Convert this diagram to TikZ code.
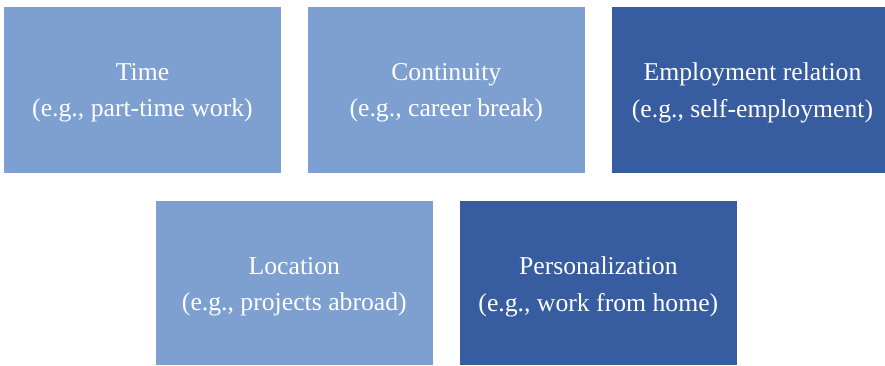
\documentclass[tikz,border=0pt]{standalone}
\usepackage{fontspec}
\setmainfont{Liberation Serif}
\definecolor{lightbox}{HTML}{7EA0D1}
\definecolor{darkbox}{HTML}{375CA0}
\tikzset{
  boxlabel/.style={text=white, align=center, font=\fontsize{25.7bp}{36.5bp}\selectfont, inner sep=0pt},
}
\begin{document}
\begin{tikzpicture}[x=1bp,y=-1bp]
\useasboundingbox (0,0) rectangle (885,365);
\fill[lightbox] (4,7) rectangle (281,172.5);
\node[boxlabel] (t1) at (142.5,93) {Time\\(e.g., part-time work)};
\fill[lightbox] (308,7) rectangle (584.5,172.5);
\node[boxlabel] (t2) at (446.25,93) {Continuity\\(e.g., career break)};
\fill[darkbox] (612,7) rectangle (885,172.5);
\node[boxlabel] (t3) at (752.5,93) {Employment relation\\(e.g., self-employment)};
\fill[lightbox] (156,201) rectangle (432.7,365);
\node[boxlabel] (t4) at (294.35,287) {Location\\(e.g., projects abroad)};
\fill[darkbox] (460,201) rectangle (736.7,365);
\node[boxlabel] (t5) at (598.35,287) {Personalization\\(e.g., work from home)};
\end{tikzpicture}
\end{document}
